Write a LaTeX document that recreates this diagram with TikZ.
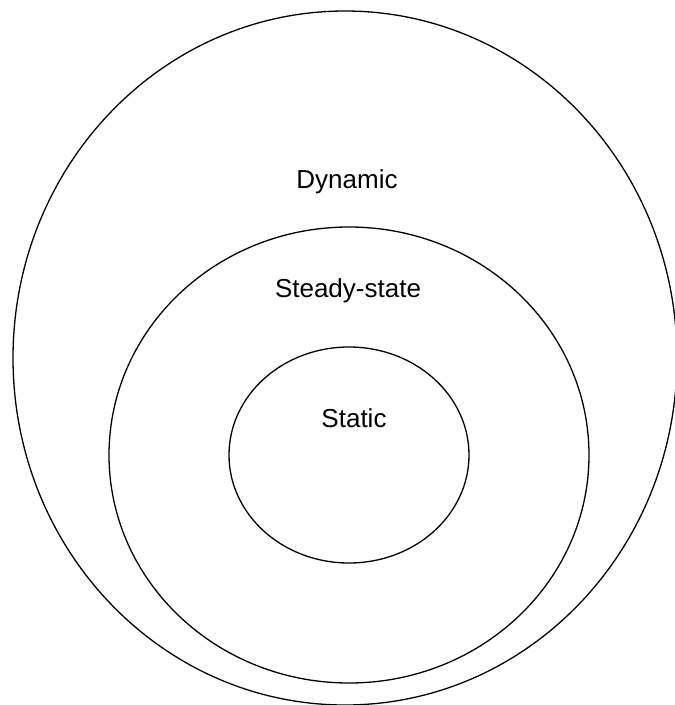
\documentclass[tikz,border=0pt]{standalone}
\usepackage{fontspec}
\setmainfont{Liberation Sans}

\begin{document}
\begin{tikzpicture}[x=1pt,y=-1pt,line width=1.3pt]
\path[use as bounding box] (0,0) rectangle (675,705);
\begin{scope}
\clip (0,0) rectangle (675,705);
\draw (345,358) ellipse [x radius=332,y radius=347];
\end{scope}
\draw (349,455) ellipse [x radius=240,y radius=228];
\draw (349,455) ellipse [x radius=120,y radius=108];
\node[anchor=base,inner sep=0pt,font=\fontsize{26}{31}\selectfont] (dynamic) at (347,188) {Dynamic};
\node[anchor=base,inner sep=0pt,font=\fontsize{26}{31}\selectfont] (steady) at (348,297) {Steady-state};
\node[anchor=base,inner sep=0pt,font=\fontsize{26}{31}\selectfont] (static) at (354,427) {Static};
\end{tikzpicture}
\end{document}
